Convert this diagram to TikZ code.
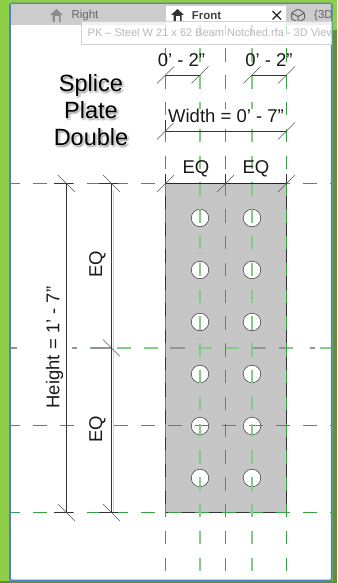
\documentclass[tikz,border=0pt]{standalone}
\usepackage{fontspec}
\setmainfont{Liberation Sans}
\usetikzlibrary{calc}
\definecolor{bggreen}{HTML}{8FCE47}
\definecolor{darkgreen}{HTML}{648F34}
\definecolor{frameblue}{HTML}{4F83BE}
\definecolor{refgreen}{HTML}{35A040}
\definecolor{palegreen}{HTML}{84CB88}
\definecolor{plate}{HTML}{C6C6C6}
\tikzset{
  x=1pt,y=-1pt,
  refh/.style={draw=refgreen,line width=1pt,dash pattern=on 13.5pt off 13.5pt,dash phase=5pt},
  refhpale/.style={draw=palegreen,line width=1.5pt,dash pattern=on 13.5pt off 13.5pt},
  refv/.style={draw=refgreen,line width=1pt,dash pattern=on 13.4pt off 13.4pt},
  refvpale/.style={draw=palegreen,line width=1.5pt,dash pattern=on 13.4pt off 13.4pt},
  dimline/.style={draw=black!80,line width=0.6pt},
  greyseg/.style={draw=black!42,line width=1.2pt},
  ticks/.style={draw=black!65,line width=0.5pt},
  dimtext/.style={font=\fontsize{18.5}{18.5}\selectfont,inner sep=0pt,text=black!90},
  bigtext/.style={font=\fontsize{23.5}{27}\selectfont,inner sep=0pt,align=center},
  hole/.style={circle,draw=black!70,fill=white,line width=0.6pt,minimum size=17.5pt,inner sep=0pt},
  tabbold/.style={font=\fontsize{11.5}{11.5}\selectfont\bfseries,inner sep=0pt,text=black!75},
  tablight/.style={font=\fontsize{11.5}{11.5}\selectfont,inner sep=0pt,text=black!60},
}
\newcommand{\dtick}[1]{\draw[ticks] ($(#1)+(-8.5,8.5)$) -- ($(#1)+(8.5,-8.5)$);}
\newcommand{\rtick}[1]{\draw[ticks] ($(#1)+(-8.5,-8.5)$) -- ($(#1)+(8.5,8.5)$);}
\begin{document}
\begin{tikzpicture}
\useasboundingbox (0,0) rectangle (337,583);
\fill[bggreen] (0,0) rectangle (337,583);
\fill[darkgreen] (333,30) rectangle (337,583);
\fill[darkgreen] (0,581) rectangle (337,583);
\filldraw[fill=white,draw=frameblue,line width=1.6pt,rounded corners=1.5pt] (10,3.5) rectangle (331.7,580.5);
% tab bar
\fill[black!20] (11,4.5) rectangle (331,25);
\fill[white] (166,6) rectangle (286,25);
% plate
\fill[plate] (165.5,183.5) rectangle (286.5,512.5);
\draw[black!80,line width=0.7pt] (165.5,512.5) -- (165.5,183.5) -- (286.5,183.5) -- (286.5,512.5) -- cycle;
% holes
\foreach \hx/\cn in {200/a,252/b}
  \foreach \hy/\rn in {218/1,270/2,322/3,374/4,426/5,478/6}
    \node[hole] (h\cn\rn) at (\hx,\hy) {};
% horizontal reference planes
\draw[refh] (11,183.5) -- (331,183.5);
\draw[refhpale,dash phase=9pt] (72,348) -- (305,348);
\draw[refhpale] (320,348) -- (331,348);
\draw[greyseg] (11,348) -- (17,348) (72,348) -- (77,348) (91,348) -- (112,348)
  (170,348) -- (185,348) (252,348) -- (265,348) (279,348) -- (286,348) (310,348) -- (315,348);
\draw[refh] (11,425.5) -- (331,425.5);
\draw[refh] (11,512.5) -- (331,512.5);
% vertical reference planes
\foreach \vx/\st in {165.5/refv,225.5/refv,286.5/refv,200/refvpale,252/refvpale}
  \draw[\st] (\vx,571) -- (\vx,25);
% dimension witness segments
\draw[black!85,line width=1.1pt] (165.5,183.5) -- (286.5,183.5);
\draw[dimline] (54,183.5) -- (73,183.5) (99,183.5) -- (118,183.5);
\draw[dimline] (54,512.5) -- (73,512.5) (99,512.5) -- (118,512.5);
% named dimension ends
\coordinate (w1) at (165.5,75);
\coordinate (w2) at (200,75);
\coordinate (w3) at (252,75);
\coordinate (w4) at (286.5,75);
\coordinate (wa) at (165.5,131);
\coordinate (wb) at (286.5,131);
\coordinate (eqa) at (165.5,183.5);
\coordinate (eqb) at (225.5,183.5);
\coordinate (eqc) at (286.5,183.5);
\coordinate (ha) at (66.5,183.5);
\coordinate (hb) at (66.5,512.5);
\coordinate (ea) at (111.5,183.5);
\coordinate (eb) at (111.5,348);
\coordinate (ec) at (111.5,512.5);
\draw[dimline] (w1) -- (w2);
\draw[dimline] (w3) -- (w4);
\draw[dimline] (wa) -- (wb);
\draw[dimline] (165.5,120) -- (wa);
\draw[dimline] (eqa) -- ++(0,-10);
\draw[dimline] (eqb) -- ++(0,-10);
\draw[dimline] (eqc) -- ++(0,-10);
\draw[draw=black!18,line width=1pt] (113,190) -- (113,512);
\draw[dimline] (ha) -- (hb);
\draw[dimline] (ea) -- (ec);
\foreach \c in {w1,w2,w3,w4,wa,wb,eqa,eqb,eqc} {\dtick{\c}}
\foreach \c in {ha,hb,ea,eb,ec} {\rtick{\c}}
% dimension texts
\node[dimtext] (t1) at (181.5,60) {0' - 2"};
\node[dimtext] (t2) at (269,60) {0' - 2"};
\node[dimtext,fill=white] (t3) at (226,116) {Width = 0' - 7"};
\node[dimtext] (t4) at (196,168.5) {EQ};
\node[dimtext] (t5) at (256,168.5) {EQ};
\node[dimtext,rotate=90] (t6) at (97.5,264) {EQ};
\node[dimtext,rotate=90,fill=white,inner sep=3pt] (t7) at (97.5,429) {EQ};
\node[dimtext,rotate=90] (t8) at (54.5,347.5) {Height = 1' - 7"};
% splice plate title with soft shadow
\foreach \ox/\oy/\a in {1/2/0.14,2.5/2.5/0.09,0/3.5/0.08,3/1/0.07}{
  \node[bigtext,text=black,opacity=\a] at (91+\ox,110+\oy) {Splice\\Plate\\Double};
}
\node[bigtext,text=black] (title) at (91,110) {Splice\\Plate\\Double};
% tab contents
\fill[black!45] (50,15) -- (56.5,9) -- (63,15) -- cycle (52.5,15) rectangle (60.5,22);
\fill[black!20] (54.5,16) rectangle (58.5,22);
\node[tablight] (tabr) at (85,16) {Right};
\fill[black!80] (171,15) -- (177.5,9) -- (184,15) -- cycle (173.5,15) rectangle (181.5,22);
\fill[white] (175.5,16.5) rectangle (179.5,22);
\node[tabbold] (tabf) at (206.5,16) {Front};
\draw[black!85,line width=1.3pt] (272.5,11) -- (281,19.5) (281,11) -- (272.5,19.5);
\draw[black!60,line width=1pt,rounded corners=1pt] (291.5,13) -- (298,9) -- (304.5,13) -- (304.5,19) -- (298,22) -- (291.5,19) -- cycle (291.5,13) -- (298,16.5) -- (304.5,13) (298,16.5) -- (298,22);
\begin{scope}
\clip (11,4) rectangle (331,25);
\node[tablight,anchor=west] (tabd) at (314,16) {\{3D\}};
\end{scope}
% tooltip overlay
\filldraw[fill=white,fill opacity=0.72,draw=black!18,line width=0.6pt] (81.5,21) rectangle (331,44);
\begin{scope}
\clip (82,21) rectangle (331,44);
\node[anchor=west,inner sep=0pt,font=\fontsize{11}{11}\selectfont,text=black!28] (tip) at (87.5,33) {PK – Steel W 21 x 62 Beam Notched.rfa - 3D View};
\end{scope}
\end{tikzpicture}
\end{document}
